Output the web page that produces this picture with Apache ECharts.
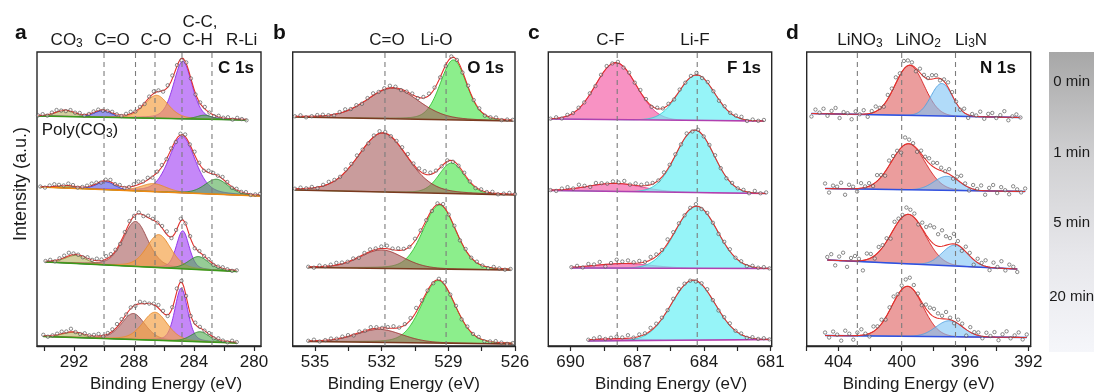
<!DOCTYPE html>
<html>
<head>
<meta charset="utf-8">
<script src="https://cdn.jsdelivr.net/npm/echarts@6.0.0/dist/echarts.min.js"></script>
<style>
html,body{margin:0;padding:0;background:#fff;}
#chart{width:1094px;height:392px;}
</style>
</head>
<body>
<div id="chart"></div>
<script>
// ================= DATA =================
const SPECTRA = ['0 min', '1 min', '5 min', '20 min'];
const X_NAME = 'Binding Energy (eV)';
const Y_NAME = 'Intensity (a.u.)';

// ---- a: C 1s ----  centers (eV), heights (a.u.), FWHM (eV), per spectrum
const C1S_COMPONENTS = ['CO3', 'C=O', 'O-C=O', 'C-O', 'C-C/C-H', 'R-Li'];
const C1S_CENTER = [
  [292.6, 290.1, 288.0, 286.5, 284.75, 283.3],
  [292.5, 289.9, 288.0, 286.7, 284.8, 282.5],
  [291.9, 290.0, 287.9, 286.35, 284.75, 283.7],
  [292.1, 290.0, 288.05, 286.6, 284.85, 283.6]
];
const C1S_HEIGHT = [
  [0.6, 0.65, 0, 2.3, 5.75, 0.4],
  [0.2, 0.8, 0, 0.8, 5.65, 1.5],
  [0.8, 0, 4.5, 3.3, 3.8, 1.3],
  [0.5, 0, 2.6, 2.8, 5.3, 1.0]
];
const C1S_FWHM = [
  [1.5, 1.35, 1.8, 1.85, 1.45, 1.2],
  [1.5, 1.45, 1.8, 2.0, 2.05, 1.85],
  [1.65, 1.4, 1.95, 1.9, 1.0, 1.6],
  [1.65, 1.4, 1.85, 1.95, 1.0, 1.45]
];
const C1S_RANGE = [[294.4, 280.5], [294.25, 279.6], [293.9, 281.15], [294.05, 281.15]];
const C1S_BG = [[23.0, 22.6], [15.9, 15.0], [8.4, 7.45], [0.95, 0.3]];
const C1S_GL = 0.3;
const C1S_RESID = [
  [0,0.1,-0.1,0.1,0.2,0,-0.1,0.1,0,0.1,-0.1,0,0.1,0.1,-0.1,0,0.1,0,-0.1,0.1,0.2,0,0.1,-0.1,0.1,0.2,0.1,-0.1,0.2,0.3,0.1,-0.2,0.1,0,-0.1,0.1,0.2,0,-0.1,0.1,0,0.1,-0.1,0.1,0,-0.1],
  [0,-0.1,0.1,0.2,0.1,0,0.2,0.1,-0.1,0,0.1,0.2,0.1,-0.1,0.1,0.2,0,0.1,-0.1,0,0.2,0.3,0.1,0.2,-0.1,0.1,0.2,0,0.1,-0.2,0.1,0.2,0,0.3,0.1,-0.1,0.2,0.1,0,0.2,0.1,-0.1,0.1,0,0.1,-0.1,0,0.1],
  [0,0.1,-0.1,0.1,0.2,0.3,0.1,0,-0.1,0.1,0,0.2,0.1,0.3,0.2,0.1,-0.1,0.1,0.2,0,0.1,-0.1,0.2,0.1,0,0.2,0.3,-0.1,0.1,0.2,0,0.1,-0.1,0.1,0,0.1,-0.1,0,0.1,0,-0.1,0],
  [0.1,-0.1,0,0.1,0.2,0.1,0.3,0,-0.1,0.1,0,0.1,0.2,-0.1,0.1,0.2,0.3,0.2,0,0.1,-0.1,0.2,0.1,0,0.1,0.3,0.2,-0.1,0.1,0.3,0.1,0,-0.1,0.2,0.1,0,0.1,-0.1,0.1,0,-0.1,0.1,0]
];
const C1S_DASH = [290.0, 287.9, 286.6, 284.8, 282.8];
const C1S_TICKS = [294, 292, 290, 288, 286, 284, 282, 280];
const C1S_LABELS = [292, 288, 284, 280];

// ---- b: O 1s ----
const O1S_COMPONENTS = ['C=O', 'Li-O'];
const O1S_CENTER = [[531.5, 528.77], [531.95, 528.85], [532.0, 529.4], [532.1, 529.45]];
const O1S_HEIGHT = [[3.05, 6.0], [5.9, 3.05], [1.85, 6.4], [1.3, 6.25]];
const O1S_FWHM = [[2.75, 1.4], [2.6, 1.35], [2.3, 1.75], [2.45, 1.8]];
const O1S_RANGE = [[535.9, 526.1], [535.9, 526.0], [535.3, 526.2], [535.3, 526.1]];
const O1S_BG = [[22.9, 22.5], [15.6, 15.1], [7.85, 7.6], [0.45, 0.2]];
const O1S_GL = 0.2;
const O1S_RESID = [
  [0,0.1,-0.1,0,0.1,0.1,0,-0.1,0.1,0.2,0,0.1,-0.1,0.1,0.2,0,0.1,0.2,0.1,-0.1,0,0.1,-0.1,0.1,0.2,0.1,0,-0.1,0.1,0,-0.1,0.1,0,0.1,-0.1,0,0.1,-0.1,0,0],
  [0,0.1,0,0.1,-0.1,0.1,0.2,0.1,0,0.2,0.1,0.2,0,-0.1,0.1,0.2,0.1,0,0.1,0.2,0.3,0.1,0.2,0.3,0.2,0.1,0,0.1,-0.1,0,0.1,0,-0.1,0.1,0,0.1,-0.1,0,0.1,0],
  [0,-0.1,0.1,0,0.1,0.2,0.1,0,0.1,-0.1,0.1,0.2,0.1,0.2,0.3,0.1,0.2,0.1,0,0.2,0.1,0,-0.1,0.1,0.2,0,0.1,-0.1,0.1,0,0.1,0,-0.1,0.1,0,-0.1,0],
  [0,0.1,-0.1,0,0.1,0,0.1,0.1,-0.1,0.1,0,0.2,0.1,0,0.1,0.2,0,0.1,0.2,0.4,0.1,0,-0.1,0.1,0.2,0,0.1,-0.1,0.1,0,0.1,-0.1,0,0.1,0,-0.1,0]
];
const O1S_DASH = [531.85, 529.1];
const O1S_TICKS = [535, 533.5, 532, 530.5, 529, 527.5, 526];
const O1S_LABELS = [535, 532, 529, 526];

// ---- c: F 1s ----
const F1S_COMPONENTS = ['C-F', 'Li-F'];
const F1S_CENTER = [[687.96, 684.33], [688.0, 684.4], [687.6, 684.33], [688.0, 684.48]];
const F1S_HEIGHT = [[5.7, 4.55], [0.8, 6.25], [0.45, 6.2], [0.2, 6.0]];
const F1S_FWHM = [[2.15, 1.9], [2.8, 2.0], [3.0, 2.2], [3.0, 2.3]];
const F1S_RANGE = [[690.9, 681.3], [690.9, 681.2], [689.96, 681.05], [689.2, 681.05]];
const F1S_BG = [[22.7, 22.5], [15.55, 15.25], [7.8, 7.75], [0.5, 0.65]];
const F1S_GL = 0;
const F1S_RESID = [
  [0,0.1,-0.1,0.1,0,0.1,0,0.1,-0.1,0.1,0.2,0,0.1,-0.1,0.1,0,0.2,0.1,-0.1,0.1,0,0.1,-0.1,0.1,0,0.1,0.2,-0.1,0.1,0,-0.1,0.1,0,0.1,0.2,-0.1,0.1,0,0.1],
  [0,-0.1,0.1,0.2,0,0.3,0.1,-0.1,0.2,0.1,0,0.2,0.1,0.3,0,0.2,0.1,0.2,0.1,0,0.2,0.1,0.1,0,0.2,-0.1,0.1,0,0.1,0.2,0,-0.1,0.1,0,0.1,-0.1,0.2,0,0.1],
  [0,0.1,-0.1,0.2,0.1,0.3,-0.2,0.1,0.4,0.2,0.3,0.1,0.2,0,0.3,0.2,0.1,0.4,0.2,0.1,0,0.1,0.2,-0.1,0.1,0,-0.1,0.1,0.2,0,0.1,-0.1,0.1,0,0.1,0],
  [0,0.1,0.2,0,0.1,0.2,0.1,0.3,0,0.2,0.1,0.3,0.2,0.1,0,0.2,0.3,0.1,0,-0.1,0.1,0.2,0,-0.1,0.1,0.2,0,0.1,-0.1,0.1,0,0.1,0]
];
const F1S_DASH = [687.9, 684.3];
const F1S_TICKS = [690, 688.5, 687, 685.5, 684, 682.5, 681];
const F1S_LABELS = [690, 687, 684, 681];

// ---- d: N 1s ----
const N1S_COMPONENTS = ['LiNO2', 'Li3N'];
const N1S_CENTER = [[399.5, 397.47], [399.58, 397.15], [399.58, 396.63], [399.64, 396.99]];
const N1S_HEIGHT = [[5.0, 3.25], [4.6, 1.4], [4.95, 2.1], [5.0, 1.6]];
const N1S_FWHM = [[2.15, 1.6], [2.5, 1.9], [2.5, 1.9], [2.3, 2.0]];
const N1S_RANGE = [[405.7, 392.5], [404.84, 392.2], [404.7, 392.7], [404.84, 392.1]];
const N1S_BG = [[23.25, 22.85], [15.75, 15.45], [8.6, 7.7], [1.05, 0.85]];
const N1S_GL = 0;
const N1S_RESID = [
  [-0.3,0.4,0.1,0.5,-0.2,0.3,0.6,-0.4,0.2,0.1,-0.5,0.3,0,0.4,-0.3,0.2,0.5,0.1,-0.2,0.4,0.3,0.6,0.2,0.8,0.5,0.3,-0.3,0.4,0.2,0.1,0.4,0.3,-0.2,0.2,0.5,0.3,0.1,-0.1,0.4,-0.3,0.2,0.1,0.5,-0.2,0.3,0.4,-0.1,0.2,0.6,-0.3,0.1,0.3,0],
  [0.5,-0.4,0.3,0.2,0.6,-0.6,0.4,0.2,-0.3,0.5,0.1,0.3,-0.2,0.6,0.2,-0.4,0.5,0.3,0.2,-0.5,0.7,0.4,0.2,-0.3,0.3,0.2,0.5,0.4,0.6,0.3,0.1,0.5,-0.2,0.3,0.7,0.2,-0.3,0.4,0.1,0.5,-0.4,0.3,0.6,-0.2,0.4,0.1,-0.3,0.5,0.2,-0.1,0.3],
  [0.3,0.6,-0.5,0.4,0.8,-0.6,0.3,0.5,0.2,-1.0,0.6,0.4,-0.3,0.5,0.2,0.3,-0.4,0.6,0.3,0.2,0.7,0.5,0.4,-0.2,0.6,0.8,1.5,1.7,1.2,1.6,0.9,0.6,1.0,0.4,-0.3,0.5,0.3,-0.5,0.4,0.2,0.6,-0.3,0.5,0.1,0.7,-0.2,0.4,0.2,-0.3],
  [0.3,-0.2,0.4,0.1,-0.5,0.5,0.2,-0.4,0.3,0.6,0.1,-0.3,0.5,0.2,0.4,-0.2,0.3,0.6,0.1,0.4,0.7,0.9,0.5,0.2,-0.3,0.4,0.6,0.8,0.5,0.3,0.7,0.2,-0.2,0.4,0.3,-0.6,0.5,0.2,0.3,-0.2,0.4,0.1,0.5,-0.3,0.3,0.6,-0.1,0.2,0.5,-0.2,0.3]
];
const N1S_DASH = [402.8, 400.0, 396.6];
const N1S_TICKS = [406, 404, 402, 400, 398, 396, 394, 392];
const N1S_LABELS = [404, 400, 396, 392];

// ================= STYLE / LAYOUT =================
const FONT = '"Liberation Sans", Arial, Helvetica, sans-serif';
const INK = '#1a1a1a';
const Y_MAX = 29.4;
const PANELS = [
  { letter: 'a', title: 'C 1s', comp: C1S_COMPONENTS, center: C1S_CENTER, height: C1S_HEIGHT, fwhm: C1S_FWHM,
    range: C1S_RANGE, bg: C1S_BG, gl: C1S_GL, resid: C1S_RESID, dash: C1S_DASH, ticks: C1S_TICKS, labels: C1S_LABELS,
    min: 279.53, max: 294.47, left: 37, width: 224, namePad: 34, titleX: 254, letterX: 15,
    order: [0, 1, 2, 4, 3, 5],
    fill: ['rgba(176,170,80,0.55)', 'rgba(80,80,225,0.6)', 'rgba(170,95,95,0.62)', 'rgba(245,160,70,0.68)', 'rgba(170,80,245,0.68)', 'rgba(80,170,80,0.6)'],
    stroke: ['#8f8a2a', '#2a2ad0', '#9a4848', '#e88a2a', '#8a2ae8', '#2e8a2e'],
    bgColor: ['#3a9a1a', '#f08a10', '#3a9a1a', '#3a9a1a'] },
  { letter: 'b', title: 'O 1s', comp: O1S_COMPONENTS, center: O1S_CENTER, height: O1S_HEIGHT, fwhm: O1S_FWHM,
    range: O1S_RANGE, bg: O1S_BG, gl: O1S_GL, resid: O1S_RESID, dash: O1S_DASH, ticks: O1S_TICKS, labels: O1S_LABELS,
    min: 526, max: 536, left: 292.7, width: 222.3, namePad: 0, titleX: 504, letterX: 273,
    order: [1, 0],
    fill: ['rgba(165,90,90,0.6)', 'rgba(95,232,95,0.72)'],
    stroke: ['#9a2a2a', '#30c030'],
    bgColor: ['#7a3a20', '#7a3a20', '#7a3a20', '#7a3a20'] },
  { letter: 'c', title: 'F 1s', comp: F1S_COMPONENTS, center: F1S_CENTER, height: F1S_HEIGHT, fwhm: F1S_FWHM,
    range: F1S_RANGE, bg: F1S_BG, gl: F1S_GL, resid: F1S_RESID, dash: F1S_DASH, ticks: F1S_TICKS, labels: F1S_LABELS,
    min: 680.95, max: 691, left: 548.3, width: 223.4, namePad: 22, titleX: 761, letterX: 528,
    order: [0, 1],
    fill: ['rgba(245,110,175,0.75)', 'rgba(110,240,245,0.72)'],
    stroke: ['#e0308a', '#30c8d0'],
    bgColor: ['#b040b0', '#b040b0', '#b040b0', '#b040b0'] },
  { letter: 'd', title: 'N 1s', comp: N1S_COMPONENTS, center: N1S_CENTER, height: N1S_HEIGHT, fwhm: N1S_FWHM,
    range: N1S_RANGE, bg: N1S_BG, gl: N1S_GL, resid: N1S_RESID, dash: N1S_DASH, ticks: N1S_TICKS, labels: N1S_LABELS,
    min: 391.85, max: 406, left: 806.7, width: 224, namePad: 0, titleX: 1016, letterX: 786,
    order: [0, 1],
    fill: ['rgba(225,105,105,0.65)', 'rgba(125,195,245,0.6)'],
    stroke: ['#d82020', '#50a0e0'],
    bgColor: ['#3050e0', '#3050e0', '#3050e0', '#3050e0'] }
];
const TOP_LABELS = [
  ['CO{s|3}', 66.7, 40, 'center'], ['C=O', 112, 40, 'center'], ['C-O', 156, 40, 'center'],
  ['C-C,', 182.5, 22, 'left'], ['C-H', 182.5, 40, 'left'], ['R-Li', 241.7, 40, 'center'],
  ['C=O', 387, 40, 'center'], ['Li-O', 436.5, 40, 'center'],
  ['C-F', 610.5, 40, 'center'], ['Li-F', 695, 40, 'center'],
  ['LiNO{s|3}', 860, 40, 'center'], ['LiNO{s|2}', 918.3, 40, 'center'], ['Li{s|3}N', 971, 40, 'center']
];
const TIME_Y = [82, 153, 223, 297];
const SUB_RICH = { s: { fontSize: 12, fontFamily: FONT, padding: [8, 0, 0, 0] } };

// ================= BUILD =================
function profile(x, c, h, w, m) {
  const t2 = ((x - c) / w) * ((x - c) / w);
  return h * ((1 - m) * Math.exp(-4 * Math.LN2 * t2) + m / (1 + 4 * t2));
}

const grids = [], xAxes = [], yAxes = [], series = [], graphics = [];
const N = 260;

PANELS.forEach((P, p) => {
  grids.push({ left: P.left, width: P.width, top: 52, height: 294, show: true,
    containLabel: false, outerBoundsMode: 'none',
    borderColor: '#262626', borderWidth: 1.4, backgroundColor: 'transparent' });
  xAxes.push({
    gridIndex: p, type: 'value', inverse: true, min: P.min, max: P.max,
    name: X_NAME, nameLocation: 'middle', nameGap: 27,
    nameTextStyle: { fontSize: 17, color: INK, fontFamily: FONT, padding: [0, 0, 0, P.namePad] },
    axisLine: { show: true, onZero: false, lineStyle: { color: '#262626', width: 1.4 } },
    axisTick: { show: true, inside: false, length: 5, customValues: P.ticks, lineStyle: { color: '#262626', width: 1.2 } },
    axisLabel: { show: true, customValues: P.labels, fontSize: 17, color: INK, fontFamily: FONT, margin: 8 },
    splitLine: { show: false }
  });
  yAxes.push({ gridIndex: p, type: 'value', min: 0, max: Y_MAX, show: false });

  const polys = [];
  SPECTRA.forEach((_, s) => {
    const [x0, x1] = P.range[s];
    const [b0, b1] = P.bg[s];
    const bgAt = x => b0 + (b1 - b0) * (x - x0) / (x1 - x0);
    const xs = [];
    for (let k = 0; k <= N; k++) xs.push(x0 + (x1 - x0) * k / N);
    const fitAt = x => {
      let v = bgAt(x);
      P.comp.forEach((_, i) => { if (P.height[s][i] > 0) v += profile(x, P.center[s][i], P.height[s][i], P.fwhm[s][i], P.gl); });
      return v;
    };
    P.order.forEach(i => {
      const h = P.height[s][i];
      if (!(h > 0)) return;
      const top = xs.map(x => [x, bgAt(x) + profile(x, P.center[s][i], h, P.fwhm[s][i], P.gl)]);
      const bottom = xs.slice().reverse().map(x => [x, bgAt(x)]);
      polys.push({ top, pts: top.concat(bottom), fill: P.fill[i], stroke: P.stroke[i],
        cx: P.center[s][i], cy: bgAt(P.center[s][i]) });
    });
    series.push({ type: 'line', xAxisIndex: p, yAxisIndex: p, data: [[x0, b0], [x1, b1]],
      showSymbol: false, silent: true, z: 3, animation: false,
      lineStyle: { color: P.bgColor[s], width: 1.3 } });
    series.push({ type: 'line', xAxisIndex: p, yAxisIndex: p, data: xs.map(x => [x, fitAt(x)]),
      showSymbol: false, silent: true, z: 4, animation: false,
      lineStyle: { color: '#e2302c', width: 1.1 } });
    const r = P.resid[s];
    const n = r.length;
    const pts = r.map((d, k) => { const x = x0 + (x1 - x0) * k / (n - 1); return [x, fitAt(x) + d]; });
    series.push({ type: 'scatter', xAxisIndex: p, yAxisIndex: p, data: pts, symbol: 'circle', symbolSize: 3.4,
      silent: true, z: 5, animation: false,
      itemStyle: { color: 'rgba(255,255,255,0.5)', borderColor: '#4a4a4a', borderWidth: 0.8 } });
  });

  series.unshift({
    type: 'custom', xAxisIndex: p, yAxisIndex: p, z: 2, silent: true, animation: false, clip: true,
    data: polys.map(q => [q.cx, q.cy]),
    renderItem: (params, api) => {
      const q = polys[params.dataIndex];
      return { type: 'group', children: [
        { type: 'polygon', shape: { points: q.pts.map(v => api.coord(v)) }, style: { fill: q.fill, stroke: null } },
        { type: 'polyline', shape: { points: q.top.map(v => api.coord(v)) }, style: { fill: null, stroke: q.stroke, lineWidth: 0.9 } }
      ] };
    }
  });

  P.dash.forEach(v => {
    series.push({ type: 'line', xAxisIndex: p, yAxisIndex: p, data: [[v, 0], [v, Y_MAX]],
      showSymbol: false, silent: true, z: 3, animation: false,
      lineStyle: { color: '#7c7c7c', width: 1.1, type: [5, 4] } });
  });

  graphics.push({ type: 'text', x: P.letterX, y: 33, z: 100,
    style: { text: P.letter, font: `bold 21px ${FONT}`, fill: '#111', align: 'left', verticalAlign: 'middle' } });
  graphics.push({ type: 'text', x: P.titleX, y: 68, z: 100,
    style: { text: P.title, font: `bold 17px ${FONT}`, fill: '#111', align: 'right', verticalAlign: 'middle' } });
});

TOP_LABELS.forEach(([t, x, y, a]) => {
  graphics.push({ type: 'text', x, y, z: 100,
    style: { text: t, font: `17px ${FONT}`, fill: INK, align: a, verticalAlign: 'middle', rich: SUB_RICH } });
});
graphics.push({ type: 'text', x: 41.7, y: 130, z: 100,
  style: { text: 'Poly(CO{s|3})', font: `17px ${FONT}`, fill: INK, align: 'left', verticalAlign: 'middle', rich: SUB_RICH } });
graphics.push({ type: 'text', x: 21.5, y: 184, rotation: Math.PI / 2, z: 100,
  style: { text: Y_NAME, font: `18px ${FONT}`, fill: INK, align: 'center', verticalAlign: 'middle' } });
graphics.push({ type: 'rect', shape: { x: 1049, y: 52, width: 45, height: 300 }, z: 1,
  style: { fill: new echarts.graphic.LinearGradient(0, 0, 0, 1, [
    { offset: 0, color: '#a7a7a7' }, { offset: 0.35, color: '#d0d0d2' },
    { offset: 0.68, color: '#e7e7eb' }, { offset: 1, color: '#f5f6fa' }]) } });
SPECTRA.forEach((t, i) => {
  graphics.push({ type: 'text', x: 1071.7, y: TIME_Y[i], z: 100,
    style: { text: t, font: `15px ${FONT}`, fill: INK, align: 'center', verticalAlign: 'middle' } });
});

const chart = echarts.init(document.getElementById('chart'), null, { renderer: 'canvas' });
chart.setOption({
  animation: false,
  backgroundColor: '#ffffff',
  grid: grids, xAxis: xAxes, yAxis: yAxes, series, graphic: graphics
});
</script>
</body>
</html>
